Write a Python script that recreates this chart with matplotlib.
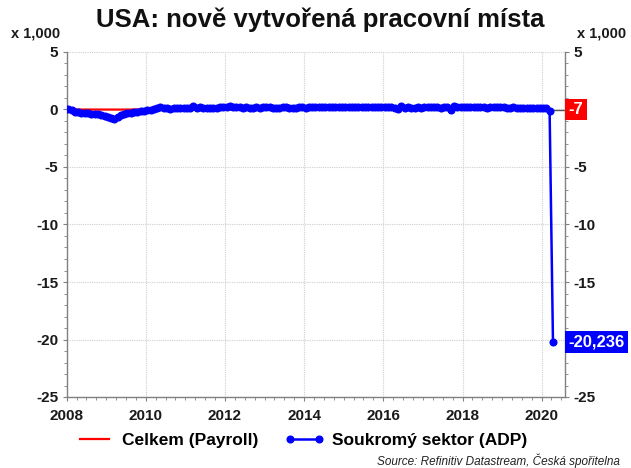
import matplotlib
matplotlib.use('Agg')
import matplotlib.pyplot as plt
import matplotlib.dates as mdates
from matplotlib.ticker import MultipleLocator
from datetime import datetime

plt.rcParams['font.family'] = ['Liberation Sans', 'DejaVu Sans']
plt.rcParams['axes.unicode_minus'] = False

title = "USA: nově vytvořená pracovní místa"
series_names = ["Celkem (Payroll)", "Soukromý sektor (ADP)"]
unit_label = "x 1,000"
source_text = "Source: Refinitiv Datastream, Česká spořitelna"
start_year = 2008

# Celkem (Payroll), monthly from Jan 2008 to Mar 2020
payroll = [
    -0.000, -0.001, -0.001, -0.002, -0.002, -0.002, -0.002, -0.003, -0.005, -0.005, -0.007, -0.007,
    -0.008, -0.007, -0.008, -0.007, -0.004, -0.005, -0.003, -0.002, -0.003, -0.002, -0.000, -0.003,
    0.000, -0.001, 0.002, 0.003, 0.005, -0.001, -0.001, -0.000, -0.001, 0.003, 0.001, 0.001,
    0.000, 0.002, 0.002, 0.003, 0.001, 0.002, 0.001, 0.001, 0.002, 0.002, 0.001, 0.002,
    0.004, 0.002, 0.002, 0.001, 0.001, 0.001, 0.002, 0.002, 0.002, 0.002, 0.002, 0.002,
    0.002, 0.003, 0.001, 0.002, 0.002, 0.002, 0.001, 0.002, 0.002, 0.002, 0.003, 0.001,
    0.002, 0.002, 0.003, 0.003, 0.002, 0.003, 0.002, 0.002, 0.003, 0.002, 0.003, 0.003,
    0.002, 0.003, 0.001, 0.003, 0.003, 0.002, 0.003, 0.002, 0.001, 0.003, 0.002, 0.002,
    0.001, 0.002, 0.002, 0.002, 0.000, 0.003, 0.003, 0.002, 0.002, 0.001, 0.002, 0.002,
    0.002, 0.002, 0.001, 0.002, 0.001, 0.002, 0.002, 0.002, -0.000, 0.002, 0.002, 0.002,
    0.002, 0.003, 0.002, 0.002, 0.003, 0.002, 0.002, 0.003, 0.001, 0.003, 0.002, 0.002,
    0.003, 0.000, 0.002, 0.002, 0.001, 0.002, 0.002, 0.002, 0.002, 0.002, 0.003, 0.002,
    0.002, 0.003, -0.007,
]

# Soukromy sektor (ADP), monthly from Jan 2008 to Apr 2020
adp = [
    0.00, -0.05, -0.20, -0.25, -0.28, -0.30, -0.33, -0.35, -0.38, -0.42, -0.48, -0.58,
    -0.68, -0.78, -0.85, -0.68, -0.52, -0.42, -0.34, -0.28, -0.23, -0.18, -0.14, -0.10,
    -0.08, -0.04, 0.03, 0.15, 0.24, 0.12, 0.09, 0.08, 0.10, 0.09, 0.11, 0.12,
    0.14, 0.16, 0.28, 0.16, 0.18, 0.14, 0.16, 0.15, 0.16, 0.17, 0.19, 0.21,
    0.25, 0.33, 0.24, 0.18, 0.20, 0.16, 0.18, 0.16, 0.15, 0.20, 0.16, 0.20,
    0.19, 0.18, 0.15, 0.14, 0.17, 0.19, 0.18, 0.17, 0.17, 0.16, 0.20, 0.19,
    0.17, 0.18, 0.20, 0.22, 0.20, 0.24, 0.21, 0.20, 0.21, 0.23, 0.22, 0.24,
    0.22, 0.21, 0.19, 0.18, 0.20, 0.22, 0.20, 0.21, 0.19, 0.20, 0.22, 0.23,
    0.20, 0.19, 0.18, 0.17, 0.05, 0.30, 0.16, 0.26, 0.15, 0.17, 0.18, 0.16,
    0.22, 0.20, 0.22, 0.18, 0.20, 0.16, 0.18, 0.20, -0.03, 0.32, 0.25, 0.22,
    0.24, 0.22, 0.20, 0.18, 0.19, 0.20, 0.18, 0.17, 0.20, 0.22, 0.19, 0.21,
    0.18, 0.15, 0.16, 0.20, 0.10, 0.12, 0.14, 0.16, 0.13, 0.12, 0.15, 0.15,
    0.15, 0.16, -0.15, -20.236,
]

y_ticks = [-25, -20, -15, -10, -5, 0, 5]
x_tick_years = [2008, 2010, 2012, 2014, 2016, 2018, 2020]

adp_dates = [datetime(start_year + i // 12, i % 12 + 1, 15) for i in range(len(adp))]
pay_dates = [datetime(start_year + i // 12, i % 12 + 1, 15) for i in range(len(payroll))]

RED = '#FF0000'
BLUE = '#0000FF'
SPINE = '#808080'

fig = plt.figure(figsize=(6.31, 4.68), dpi=100)
W, H = 631, 468
ax = fig.add_axes([66.7 / W, 1 - 397 / H, (565 - 66.7) / W, (397 - 52) / H])

ax.plot(pay_dates, payroll, color=RED, lw=1.6, zorder=3, label=series_names[0])
ax.plot(adp_dates, adp, color=BLUE, lw=1.8, marker='o', ms=4.8, mec=BLUE, mfc=BLUE,
        zorder=4, label=series_names[1])

ax.set_xlim(datetime(2008, 1, 1), datetime(2020, 8, 4))
ax.set_ylim(min(y_ticks), max(y_ticks))
ax.set_yticks(y_ticks)
ax.yaxis.set_minor_locator(MultipleLocator(1))
ax.set_xticks([datetime(y, 1, 1) for y in x_tick_years])
ax.xaxis.set_major_formatter(mdates.DateFormatter('%Y'))
ax.xaxis.set_minor_locator(mdates.MonthLocator(bymonth=[1, 4, 7, 10]))

ax.grid(True, which='major', color='#cfcfcf', lw=0.8, ls=(0, (1, 1)))
ax.set_axisbelow(True)

for s in ['left', 'right', 'bottom']:
    ax.spines[s].set_color(SPINE)
    ax.spines[s].set_linewidth(1.0)
ax.spines['top'].set_visible(False)

ax.tick_params(axis='both', which='major', length=3, color=SPINE, labelsize=11,
               labelcolor='#1a1a1a', pad=3)
ax.tick_params(axis='both', which='minor', length=2.5, color=SPINE)
ax.tick_params(axis='y', which='both', left=True, right=True, labelleft=True, labelright=True)
for lab in ax.get_xticklabels() + ax.get_yticklabels():
    lab.set_fontweight('bold')
ax.xaxis.set_tick_params(pad=6)

# right-side tick labels hidden behind the end-value boxes
for lab, t in zip(ax.yaxis.get_ticklabels(which='major'), ax.get_yticks()):
    pass

# end-value boxes
ax.plot([pay_dates[-1], datetime(2020, 8, 4)], [payroll[-1], payroll[-1]],
        color='#555555', lw=1.0, zorder=2, clip_on=False)
for val, col in [(payroll[-1], RED), (adp[-1], BLUE)]:
    ax.annotate(f"{val * 1000:,.0f}", xy=(1, val), xycoords=('axes fraction', 'data'),
                xytext=(2.6, 0), textcoords='offset points', ha='left', va='center',
                color='white', fontsize=12, fontweight='bold', annotation_clip=False,
                zorder=20,
                bbox=dict(boxstyle='square,pad=0.2', fc=col, ec='none'))
# hide the right tick labels that the boxes cover (0 and -20)
for tk in ax.yaxis.get_major_ticks():
    if tk.get_loc() in (0, -20):
        tk.label2.set_visible(False)

fig.text(320 / W, 1 - 20 / H, title, ha='center', va='center', fontsize=18.5,
         fontweight='bold', color='#111111')
fig.text(36 / W, 1 - 33 / H, unit_label, ha='center', va='center', fontsize=10.5,
         fontweight='bold', color='#1a1a1a')
fig.text(602 / W, 1 - 33 / H, unit_label, ha='center', va='center', fontsize=10.5,
         fontweight='bold', color='#1a1a1a')
fig.text(620 / W, 1 - 461 / H, source_text, ha='right', va='center', fontsize=8.5,
         style='italic', color='#222222')

leg = fig.legend(loc='center', bbox_to_anchor=(301 / W, 1 - 440 / H), ncol=2,
                 frameon=False, numpoints=2, handlelength=2.3, columnspacing=1.5,
                 handletextpad=0.45, prop={'weight': 'bold', 'size': 12.5})

fig.savefig('out.png', dpi=100)
